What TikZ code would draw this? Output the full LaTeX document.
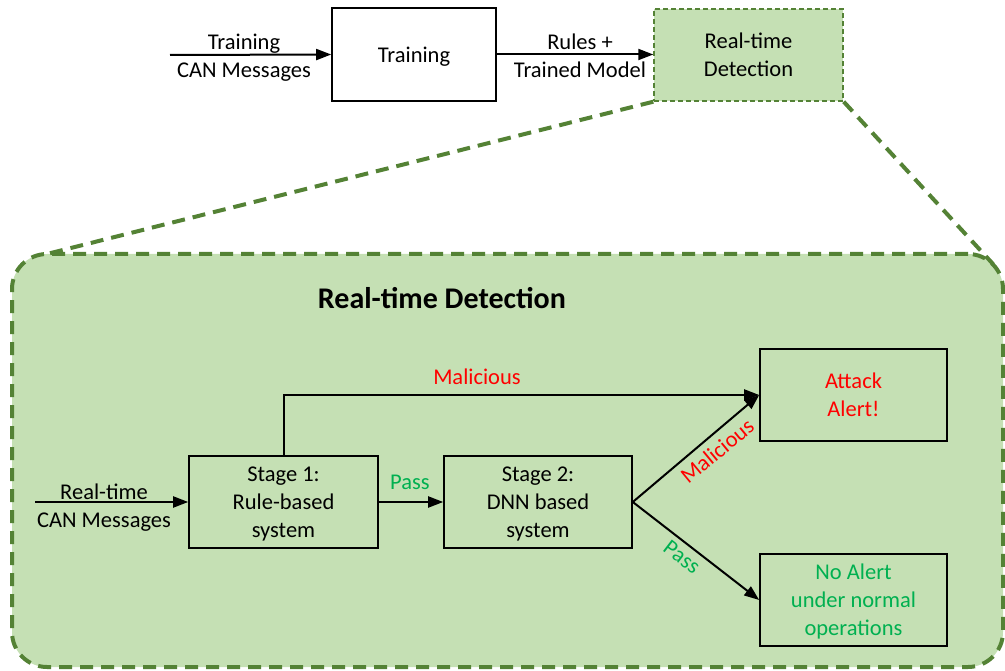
\documentclass[tikz,border=0pt]{standalone}
\usepackage{fontspec}
\setmainfont{Carlito}
\usetikzlibrary{arrows.meta}
\definecolor{paleGreen}{HTML}{C5E0B4}
\definecolor{darkGreen}{HTML}{548235}
\definecolor{alertRed}{HTML}{FF0000}
\definecolor{passGreen}{HTML}{00B050}
\tikzstyle{arrow} = [line width=2pt, -{Triangle[length=15pt,width=11pt]}]
\tikzstyle{box} = [draw, line width=1.6pt, align=center, inner sep=0pt, text depth=-3pt]
\tikzstyle{lbl} = [align=center, inner sep=0pt, text depth=-1pt]
\tikzstyle{zoomline} = [darkGreen, line width=4pt, dash pattern=on 13pt off 8pt]

\begin{document}
\begin{tikzpicture}[x=1pt, y=-1pt, font=\fontsize{22.5}{28}\selectfont]
  \useasboundingbox (0,0) rectangle (1005,671);

  % top row
  \coordinate (trainIn) at (170,55);
  \node [box, minimum width=164pt, minimum height=93pt] (train) at (414,54.5) {Training};
  \node [box, draw=darkGreen, line width=1.4pt, dash pattern=on 5pt off 3pt, fill=paleGreen,
         minimum width=189pt, minimum height=92pt] (rtd) at (748.5,55) {Real-time\\Detection};
  \draw [arrow] (trainIn) -- (train.west);
  \draw [arrow] (train.east) -- (rtd.west |- train.east);
  \node [lbl] (trainLbl) at (244,56) {Training\\CAN Messages};
  \node [lbl] (modelLbl) at (580,56) {Rules +\\Trained Model};

  % zoomed detection area
  \node [draw=darkGreen, fill=paleGreen, line width=4pt, dash pattern=on 13pt off 8pt,
         rounded corners=35pt, minimum width=991pt, minimum height=413pt] (rtdBig) at (507.5,460.5) {};
  \coordinate (zoomL) at (43,255);
  \coordinate (zoomR) at (993,264);
  \draw [zoomline] (rtd.south west) -- (zoomL);
  \draw [zoomline] (rtd.south east) -- (zoomR);
  \node [font=\fontsize{30}{36}\selectfont\bfseries] (bigTitle) at (442,298) {Real-time Detection};

  % stages
  \node [box, minimum width=189pt, minimum height=92pt] (stgA) at (283.5,502) {Stage 1:\\Rule-based\\system};
  \node [box, minimum width=188pt, minimum height=92pt] (stgB) at (538,502) {Stage 2:\\DNN based\\system};
  \node [box, text=alertRed, minimum width=187pt, minimum height=92pt] (attack) at (853.5,395) {Attack\\Alert!};
  \node [box, text=passGreen, minimum width=187pt, minimum height=92pt] (noAlert) at (853.5,600) {No Alert\\under normal\\operations};

  \coordinate (rtIn) at (35,502);
  \draw [arrow] (rtIn) -- (stgA.west);
  \node [lbl] (rtLbl) at (104,506) {Real-time\\CAN Messages};

  \draw [arrow] (stgA.east) -- (stgB.west);
  \node [lbl, text=passGreen] at (410,482) {Pass};

  \draw [arrow] (stgA.north) |- (attack.west);
  \node [lbl, text=alertRed] at (477,377) {Malicious};

  \draw [arrow] (stgB.east) -- (attack.west);
  \node [lbl, text=alertRed, rotate=39.6] at (717,451) {Malicious};

  \draw [arrow] (stgB.east) -- (noAlert.west);
  \node [lbl, text=passGreen, rotate=-37.5] at (682,557) {Pass};
\end{tikzpicture}
\end{document}
